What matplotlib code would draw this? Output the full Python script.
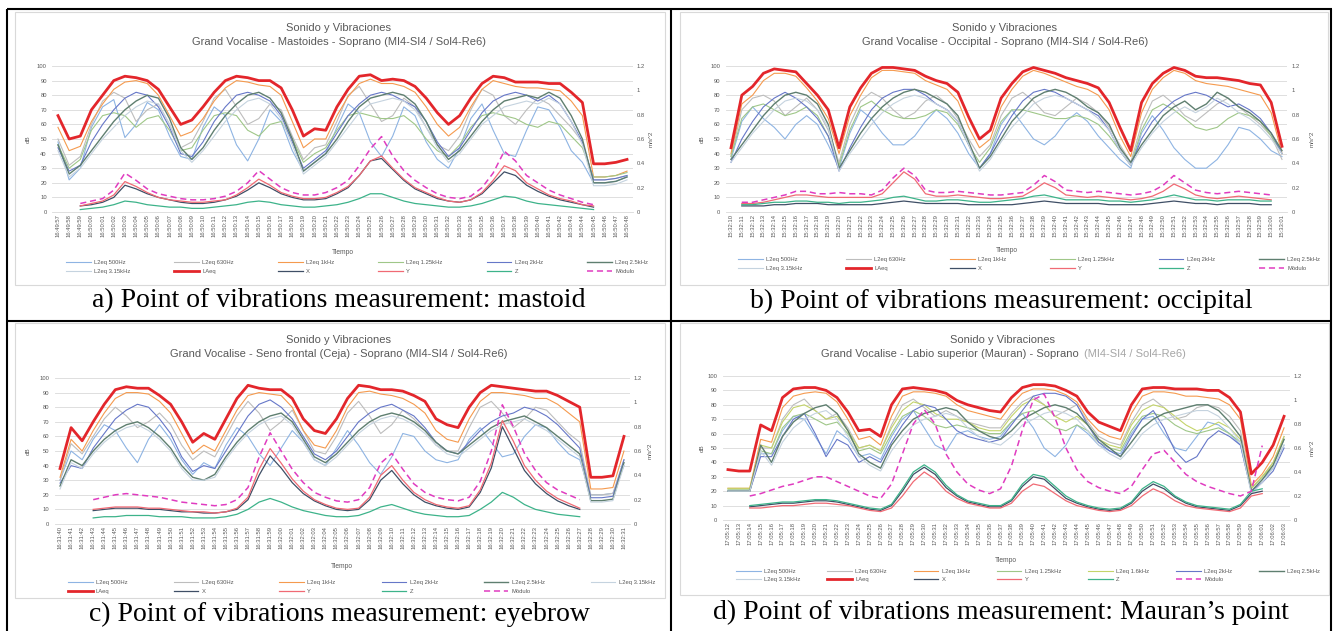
import numpy as np
import matplotlib
matplotlib.use("Agg")
import matplotlib.pyplot as plt
from matplotlib.lines import Line2D
from matplotlib.patches import Rectangle

nan = float('nan')
W, H = 1336, 631

# ---------------- tick labels (time stamps) ----------------
TIMES_A = """16:49:57 16:49:58 16:49:59 16:50:00 16:50:01 16:50:02 16:50:03 16:50:04 16:50:05 16:50:06
16:50:07 16:50:08 16:50:09 16:50:10 16:50:11 16:50:12 16:50:13 16:50:14 16:50:15 16:50:16
16:50:17 16:50:18 16:50:19 16:50:20 16:50:21 16:50:22 16:50:23 16:50:24 16:50:25 16:50:26
16:50:27 16:50:28 16:50:29 16:50:30 16:50:31 16:50:32 16:50:33 16:50:34 16:50:35 16:50:36
16:50:37 16:50:38 16:50:39 16:50:40 16:50:41 16:50:42 16:50:43 16:50:44 16:50:45 16:50:46
16:50:47 16:50:48""".split()
TIMES_B = """15:32:10 15:32:11 15:32:12 15:32:13 15:32:14 15:32:15 15:32:16 15:32:17 15:32:18 15:32:19
15:32:20 15:32:21 15:32:22 15:32:23 15:32:24 15:32:25 15:32:26 15:32:27 15:32:28 15:32:29
15:32:30 15:32:31 15:32:32 15:32:33 15:32:34 15:32:35 15:32:36 15:32:37 15:32:38 15:32:39
15:32:40 15:32:41 15:32:42 15:32:43 15:32:44 15:32:45 15:32:46 15:32:47 15:32:48 15:32:49
15:32:50 15:32:51 15:32:52 15:32:53 15:32:54 15:32:55 15:32:56 15:32:57 15:32:58 15:32:59
15:33:00 15:33:01""".split()
TIMES_C = """16:31:40 16:31:41 16:31:42 16:31:43 16:31:44 16:31:45 16:31:46 16:31:47 16:31:48 16:31:49
16:31:50 16:31:51 16:31:52 16:31:53 16:31:54 16:31:55 16:31:56 16:31:57 16:31:58 16:31:59
16:32:00 16:32:01 16:32:02 16:32:03 16:32:04 16:32:05 16:32:06 16:32:07 16:32:08 16:32:09
16:32:10 16:32:11 16:32:12 16:32:13 16:32:14 16:32:15 16:32:16 16:32:17 16:32:18 16:32:19
16:32:20 16:32:21 16:32:22 16:32:23 16:32:24 16:32:25 16:32:26 16:32:27 16:32:28 16:32:29
16:32:30 16:32:31""".split()
TIMES_D = """17:05:12 17:05:13 17:05:14 17:05:15 17:05:16 17:05:17 17:05:18 17:05:19 17:05:20 17:05:21
17:05:22 17:05:23 17:05:24 17:05:25 17:05:26 17:05:27 17:05:28 17:05:29 17:05:30 17:05:31
17:05:32 17:05:33 17:05:34 17:05:35 17:05:36 17:05:37 17:05:38 17:05:39 17:05:40 17:05:41
17:05:42 17:05:43 17:05:44 17:05:45 17:05:46 17:05:47 17:05:48 17:05:49 17:05:50 17:05:51
17:05:52 17:05:53 17:05:54 17:05:55 17:05:56 17:05:57 17:05:58 17:05:59 17:06:00 17:06:01
17:06:02 17:06:03""".split()

# ---------------- panel a: mastoid ----------------
A_LAEQ = [66,50,52,70,80,90,93,92,90,84,72,60, 63,72,82,90,93,92,90,90,85,70, 52,57,56,72,84,93,94,90,91,90,86,78,68, 60,66,78,88,93,92,89,89,89,88,88,82,75, 33,33,34,36]
A_L1K = [58,42,45,62,74,84,89,90,88,80,66,52, 55,64,76,85,90,89,87,86,80,62, 44,50,50,66,79,88,91,88,88,86,82,72,60, 52,58,72,84,90,88,86,85,85,84,83,76,66, 24,24,25,28]
A_L630 = [50,32,38,60,76,82,78,62,70,74,60,44, 48,62,78,84,72,60,64,74,70,52, 36,44,46,62,80,86,74,62,66,78,72,58,46, 42,52,70,84,80,66,60,70,78,74,66,58,48, 22,22,23,25]
A_L500 = [48,22,30,58,72,77,51,60,75,70,52,38, 36,58,72,66,46,35,50,70,62,42, 28,34,40,58,74,68,48,38,52,72,66,48,36, 30,44,64,74,56,40,38,56,72,70,58,42,34, 20,20,21,24]
A_L1250 = [46,30,36,56,66,68,66,58,64,66,56,42, 44,56,66,68,66,56,52,60,62,50, 34,40,44,56,66,68,66,64,64,66,60,50,42, 38,46,58,66,68,66,64,60,58,62,60,52,44, 24,24,25,27]
A_L2K = [44,28,32,48,60,70,78,82,80,72,58,40, 38,48,62,72,80,82,80,76,66,48, 30,36,42,54,66,74,80,82,80,76,72,62,48, 38,44,56,68,76,80,82,80,76,80,74,62,48, 22,22,23,25]
A_L2500 = [46,26,32,42,52,62,70,76,80,78,64,44, 36,44,56,66,74,80,82,78,68,50, 28,34,40,50,62,72,78,80,82,80,74,62,46, 36,42,52,62,70,76,78,80,78,82,78,66,50, 20,20,21,24]
A_L3150 = [42,24,30,40,50,58,66,72,76,74,60,42, 34,42,52,62,70,76,78,74,64,46, 26,32,38,48,58,68,74,76,78,76,70,58,44, 34,40,50,60,66,72,74,76,74,78,74,62,46, 18,18,19,22]
A_MOD = [nan,nan,.07,.09,.11,.18,.32,.26,.19,.15,.13,.11, .10,.10,.11,.13,.17,.24,.34,.27,.20,.16, .14,.14,.16,.20,.26,.38,.52,.62,.46,.34,.26,.20,.15, .12,.11,.13,.20,.32,.50,.42,.30,.24,.18,.14,.11,.08, .06,nan,nan,nan]
A_Y = [nan,nan,.05,.07,.09,.14,.25,.21,.16,.12,.10,.09, .08,.08,.09,.10,.14,.20,.27,.22,.16,.13, .11,.11,.12,.16,.21,.30,.42,.46,.36,.27,.20,.16,.12, .09,.08,.10,.16,.26,.38,.34,.24,.19,.14,.11,.09,.06, .05,nan,nan,nan]
A_X = [nan,nan,.05,.06,.08,.12,.22,.19,.15,.12,.10,.08, .07,.07,.08,.10,.13,.18,.24,.20,.15,.12, .10,.10,.11,.15,.20,.30,.42,.44,.35,.26,.19,.15,.11, .09,.08,.10,.15,.24,.33,.30,.22,.17,.13,.10,.08,.06, .04,nan,nan,nan]
A_Z = [nan,nan,.02,.03,.04,.06,.09,.08,.06,.05,.04,.04, .03,.03,.04,.05,.06,.08,.09,.08,.06,.05, .04,.04,.05,.06,.08,.11,.15,.15,.12,.09,.07,.06,.05, .04,.04,.05,.07,.10,.13,.12,.09,.07,.06,.05,.04,.03, .02,nan,nan,nan]

# ---------------- panel b: occipital ----------------
B_LAEQ = [44,80,86,95,98,97,96,88,80,70, 44, 72,85,95,99,99,98,97,93,90,88,82,65, 50, 56,78,88,96,99,97,95,92,90,88,85,75,58, 42, 75,88,95,99,97,93,92,92,91,90,88,87,75, 45]
B_L1K = [40,74,80,90,95,95,93,85,76,64, 40, 66,80,92,97,97,96,95,90,87,84,76,58, 44, 50,72,84,93,97,95,92,89,86,84,80,70,52, 38, 68,84,92,97,95,90,88,87,86,84,82,80,68, 40]
B_L630 = [38,70,78,80,76,66,72,78,70,56, 34, 60,76,82,78,70,64,68,76,80,74,64,50, 38, 46,66,78,82,76,68,66,72,78,74,68,58,46, 34, 60,76,80,74,66,62,68,74,78,72,66,60,52, 36]
B_L500 = [36,62,72,64,58,50,60,66,60,46, 30, 54,70,64,54,46,46,52,62,70,64,54,40, 30, 40,60,70,60,50,46,52,62,68,62,52,44,36, 30, 54,66,56,44,36,30,30,36,46,58,56,50,42, 38]
B_L1250 = [38,64,72,74,70,66,68,72,66,52, 32, 56,72,76,70,66,64,64,66,70,68,60,46, 34, 44,62,70,70,68,66,64,64,66,64,60,52,42, 32, 56,70,74,70,64,58,56,58,64,68,66,62,52, 40]
B_L2K = [34,50,62,72,78,82,78,72,64,52, 28, 44,58,70,78,82,84,84,80,74,70,62,46, 30, 40,54,66,76,82,84,82,78,74,70,66,56,42, 32, 50,62,70,76,80,82,80,76,72,74,70,64,54, 40]
B_L2500 = [36,46,56,66,74,80,82,80,74,60, 30, 42,54,64,72,78,82,84,82,78,74,66,48, 30, 38,50,62,70,78,82,84,82,78,72,68,60,44, 34, 46,56,66,72,76,70,74,82,78,72,68,62,54, 42]
B_L3150 = [34,44,54,62,70,76,78,76,70,58, 28, 40,50,60,68,74,78,80,78,74,70,62,46, 28, 36,48,58,66,74,78,80,78,74,70,64,56,42, 32, 44,54,62,68,72,68,72,78,74,68,64,58,50, 40]
B_MOD = [nan,.08,.08,.10,.12,.14,.17,.17,.15,.15, .16, .15,.15,.14,.18,.28,.36,.30,.18,.16,.16,.17,.16, .15, .14,.14,.15,.16,.22,.30,.25,.18,.17,.16,.17,.16,.15, .14, .15,.17,.22,.30,.24,.18,.16,.15,.16,.17,.16,.15,.14, nan]
B_Y = [nan,.07,.07,.08,.10,.12,.14,.14,.13,.12, .12, .12,.12,.12,.15,.24,.33,.27,.15,.13,.13,.14,.13, .12, .11,.11,.12,.13,.18,.24,.20,.14,.13,.12,.13,.12,.11, .10, .11,.13,.17,.23,.19,.14,.12,.11,.12,.13,.12,.11,.10, nan]
B_X = [nan,.05,.05,.05,.06,.06,.07,.07,.07,.06, .06, .06,.06,.06,.07,.08,.09,.08,.07,.07,.07,.07,.06, .06, .06,.06,.06,.07,.08,.09,.08,.07,.07,.07,.07,.06,.06, .06, .06,.07,.08,.09,.08,.07,.07,.06,.07,.07,.07,.06,.06, nan]
B_Z = [nan,.06,.06,.07,.08,.08,.09,.09,.08,.08, .07, .08,.08,.09,.10,.12,.13,.11,.09,.09,.10,.10,.09, .08, .08,.09,.10,.11,.13,.14,.12,.10,.10,.10,.10,.09,.09, .08, .09,.10,.12,.14,.12,.10,.10,.09,.10,.10,.10,.09,.09, nan]

# ---------------- panel c: eyebrow ----------------
C_LAEQ = [38,66,57,70,82,92,94,93,93,88,82,70, 56,62,58,72,86,95,93,92,92,86,72,64, 62,72,86,95,94,92,92,91,88,84,72,68, 66,80,90,95,94,93,92,91,91,88,84,80, 32,32,33,60]
C_L1K = [32,58,50,64,76,86,90,90,89,84,76,62, 48,54,50,64,78,88,90,89,88,80,64,54, 52,64,80,90,91,89,88,86,82,76,64,58, 56,72,84,90,90,89,88,86,86,82,76,70, 24,24,25,50]
C_L630 = [30,55,48,60,72,80,74,66,70,76,68,54, 44,50,46,60,74,84,76,64,70,78,64,50, 48,60,76,84,74,62,68,78,72,64,54,50, 50,66,80,84,76,66,72,80,78,70,62,56, 20,20,21,44]
C_L500 = [30,50,44,58,68,64,52,42,58,68,58,44, 34,42,38,54,66,60,48,40,52,64,56,44, 40,52,64,54,42,34,46,62,60,50,44,42, 44,58,66,56,46,48,60,68,66,56,48,44, 20,20,21,40]
C_L2K = [28,40,38,52,62,72,78,82,80,72,62,46, 36,40,38,50,62,74,82,85,80,72,60,48, 44,50,60,70,76,80,82,78,74,66,56,50, 48,56,64,70,74,76,80,78,74,68,60,52, 18,18,19,44]
C_L2500 = [26,44,40,50,58,64,68,70,66,60,52,40, 32,30,34,46,56,64,70,74,76,70,58,46, 42,48,56,64,70,74,76,74,70,64,56,50, 48,54,60,66,70,72,74,70,66,60,54,48, 16,16,17,42]
C_L3150 = [24,42,38,48,56,62,66,68,64,58,50,38, 30,30,32,44,54,62,68,72,74,68,56,44, 40,46,54,62,68,72,74,72,68,62,54,48, 46,52,58,64,68,70,72,68,64,58,52,46, 15,15,16,40]
C_MOD = [nan,nan,nan,.20,.22,.24,.25,.24,.23,.22,.20,.18, .17,.16,.15,.16,.20,.30,.55,.75,.60,.45,.34,.26, .22,.19,.18,.20,.30,.50,.58,.45,.33,.26,.22,.20, .19,.22,.35,.60,.98,.80,.58,.44,.34,.28,.24,.20, nan,nan,nan,nan]
C_Y = [nan,nan,nan,.12,.13,.14,.14,.14,.13,.13,.12,.11, .10,.10,.09,.10,.13,.22,.45,.62,.50,.37,.27,.20, .16,.13,.12,.13,.22,.40,.48,.36,.26,.20,.16,.14, .13,.15,.28,.50,.85,.68,.48,.36,.27,.21,.17,.13, nan,nan,nan,nan]
C_X = [nan,nan,nan,.11,.12,.13,.13,.13,.12,.12,.11,.10, .10,.09,.09,.10,.12,.20,.40,.56,.46,.34,.25,.19, .15,.12,.11,.12,.20,.36,.44,.33,.24,.18,.15,.13, .12,.14,.26,.46,.80,.62,.44,.33,.25,.19,.15,.12, nan,nan,nan,nan]
C_Z = [nan,nan,nan,.05,.06,.06,.07,.07,.07,.06,.06,.06, .05,.05,.05,.06,.08,.12,.18,.21,.18,.14,.11,.09, .07,.06,.06,.07,.10,.14,.16,.13,.10,.08,.07,.06, .06,.07,.12,.18,.26,.22,.16,.12,.10,.08,.07,.06, nan,nan,nan,nan]

# ---------------- panel d: Mauran's point ----------------
D_LAEQ = [35,34,34,66,62,85,91,92,92,90,85,75, 62,63,58,80,91,92,91,90,88,83,80,78, 76,75,85,92,94,94,93,90,86,75,68,65, 62,80,91,92,92,91,91,91,90,90,85,75, 32,40,52,72]
D_L1K = [22,22,22,56,54,78,86,88,89,88,82,70, 56,58,52,72,86,89,89,88,86,80,76,74, 72,70,80,88,91,91,90,87,82,70,62,58, 56,74,86,89,89,88,86,86,85,84,80,70, 24,32,44,64]
D_L630 = [20,20,20,50,50,70,80,84,76,70,74,64, 50,52,48,66,80,84,78,72,76,72,68,66, 64,64,74,82,86,80,72,76,80,68,58,54, 52,68,80,84,78,70,72,78,80,78,72,62, 22,30,40,58]
D_L500 = [20,20,20,46,46,62,72,70,58,46,62,56, 44,46,42,58,70,76,64,52,48,60,62,58, 56,58,68,74,64,50,44,52,66,60,52,48, 46,60,70,72,60,50,48,58,68,66,60,52, 20,28,36,52]
D_L1250 = [21,21,21,48,46,64,72,74,70,66,68,60, 48,50,46,60,72,76,72,66,64,66,64,62, 60,60,68,74,76,70,64,62,66,62,54,50, 48,62,72,74,72,66,62,60,62,64,60,54, 22,30,38,56]
D_L1600 = [22,22,22,52,50,68,78,80,76,70,72,62, 50,52,48,64,76,82,80,74,70,70,68,64, 62,62,72,80,84,80,72,68,72,66,56,52, 50,66,76,80,78,72,66,62,64,68,64,56, 22,30,40,58]
D_L2K = [20,20,20,44,44,58,70,74,60,44,56,52, 40,44,40,54,66,76,80,78,70,62,58,56, 54,56,66,76,86,88,88,86,80,66,54,48, 44,58,70,76,64,48,40,44,56,62,58,52, 20,26,34,50]
D_L2500 = [20,20,20,52,40,58,68,74,78,80,74,62, 46,40,36,52,62,70,74,76,78,76,68,62, 58,56,62,70,74,78,80,78,74,66,56,50, 44,54,64,70,74,76,78,80,80,76,68,58, 20,28,38,56]
D_L3150 = [20,20,20,48,38,54,64,70,74,76,70,58, 44,38,34,48,58,66,70,72,74,72,64,58, 54,52,58,66,70,74,76,74,70,62,52,46, 42,50,60,66,70,72,74,76,76,72,64,54, 18,26,36,52]
D_MOD = [nan,nan,.20,.22,.25,.28,.30,.33,.36,.36,.32,.28, .24,.20,.18,.30,.55,.80,.92,.80,.55,.40,.30,.25, .22,.26,.45,.75,1.0,1.05,.85,.60,.42,.32,.27,.24, .22,.28,.42,.55,.58,.48,.38,.32,.28,.25,.22,.20, .24,.62,nan,nan]
D_Y = [nan,nan,.10,.10,.11,.12,.12,.13,.14,.14,.13,.12, .10,.08,.07,.10,.20,.32,.40,.34,.24,.18,.14,.12, .10,.10,.14,.24,.30,.28,.22,.16,.12,.10,.08,.07, .08,.12,.20,.26,.22,.16,.12,.10,.09,.08,.07,.10, .20,.22,nan,nan]
D_X = [nan,nan,.11,.12,.13,.14,.14,.15,.16,.16,.15,.13, .11,.09,.08,.12,.24,.38,.44,.38,.27,.20,.15,.13, .11,.11,.16,.28,.36,.34,.26,.18,.14,.11,.09,.08, .09,.14,.24,.30,.26,.19,.14,.11,.10,.09,.08,.12, .22,.24,nan,nan]
D_Z = [nan,nan,.12,.13,.14,.15,.15,.16,.17,.17,.16,.14, .12,.10,.09,.13,.26,.40,.46,.40,.29,.21,.16,.14, .12,.12,.17,.30,.38,.36,.28,.20,.15,.12,.10,.09, .10,.15,.26,.32,.28,.20,.15,.12,.11,.10,.09,.13, .24,.26,nan,nan]

# ---------------- styles ----------------
STYLE = {
    'L2eq 500Hz':   ('#8EB4E3', 0.8, '-'),
    'L2eq 630Hz':   ('#BDBDBD', 0.8, '-'),
    'L2eq 1kHz':    ('#F59A4E', 0.8, '-'),
    'L2eq 1.25kHz': ('#9FC788', 0.8, '-'),
    'L2eq 1.6kHz':  ('#C4D46A', 0.8, '-'),
    'L2eq 2kHz':    ('#6677C8', 0.8, '-'),
    'L2eq 2.5kHz':  ('#5F7F70', 1.0, '-'),
    'L2eq 3.15kHz': ('#C5D3DF', 0.8, '-'),
    'LAeq':         ('#E3262B', 2.0, '-'),
    'X':            ('#3F4F66', 0.9, '-'),
    'Y':            ('#F06A74', 0.9, '-'),
    'Z':            ('#3DB38A', 0.9, '-'),
    'Módulo':       ('#E03CC0', 1.1, (0, (4, 2.5))),
}
VIB = {'X', 'Y', 'Z', 'Módulo'}
GRAY = '#595959'
CHART_FONT = ['Liberation Sans', 'DejaVu Sans']

PANELS = [
    dict(series=[('L2eq 500Hz', A_L500), ('L2eq 630Hz', A_L630), ('L2eq 1kHz', A_L1K), ('L2eq 1.25kHz', A_L1250),
                 ('L2eq 2kHz', A_L2K), ('L2eq 2.5kHz', A_L2500), ('L2eq 3.15kHz', A_L3150), ('LAeq', A_LAEQ),
                 ('X', A_X), ('Y', A_Y), ('Z', A_Z), ('Módulo', A_MOD)],
         times=TIMES_A, ncol=6,
         sub=("Grand Vocalise - Mastoides - Soprano (MI4-SI4 / Sol4-Re6)", ""),
         caption="a) Point of vibrations measurement: mastoid",
         box=(15, 12, 665, 285), plot=(52.4, 66, 632.6, 212), tcx=339, ty=28, sy=42,
         xl_y=253, leg=(66, 648, 257, 277), db_x=28, ms_x=651, cap=(339, 301)),
    dict(series=[('L2eq 500Hz', B_L500), ('L2eq 630Hz', B_L630), ('L2eq 1kHz', B_L1K), ('L2eq 1.25kHz', B_L1250),
                 ('L2eq 2kHz', B_L2K), ('L2eq 2.5kHz', B_L2500), ('L2eq 3.15kHz', B_L3150), ('LAeq', B_LAEQ),
                 ('X', B_X), ('Y', B_Y), ('Z', B_Z), ('Módulo', B_MOD)],
         times=TIMES_B, ncol=6,
         sub=("Grand Vocalise - Occipital - Soprano (MI4-SI4 / Sol4-Re6)", ""),
         caption="b) Point of vibrations measurement: occipital",
         box=(680, 12, 1328, 285), plot=(725.6, 66, 1287.4, 212), tcx=1005, ty=28, sy=42,
         xl_y=250, leg=(738, 1320, 254, 274), db_x=702, ms_x=1312, cap=(1001, 301)),
    dict(series=[('L2eq 500Hz', C_L500), ('L2eq 630Hz', C_L630), ('L2eq 1kHz', C_L1K),
                 ('L2eq 2kHz', C_L2K), ('L2eq 2.5kHz', C_L2500), ('L2eq 3.15kHz', C_L3150), ('LAeq', C_LAEQ),
                 ('X', C_X), ('Y', C_Y), ('Z', C_Z), ('Módulo', C_MOD)],
         times=TIMES_C, ncol=6,
         sub=("Grand Vocalise - Seno frontal (Ceja) - Soprano (MI4-SI4 / Sol4-Re6)", ""),
         caption="c) Point of vibrations measurement: eyebrow",
         box=(15, 323, 665, 598), plot=(54.5, 378, 629.5, 524), tcx=339, ty=340, sy=354,
         xl_y=567, leg=(68, 655, 577, 597), db_x=28, ms_x=650, cap=(339, 614)),
    dict(series=[('L2eq 500Hz', D_L500), ('L2eq 630Hz', D_L630), ('L2eq 1kHz', D_L1K), ('L2eq 1.25kHz', D_L1250),
                 ('L2eq 1.6kHz', D_L1600), ('L2eq 2kHz', D_L2K), ('L2eq 2.5kHz', D_L2500), ('L2eq 3.15kHz', D_L3150),
                 ('LAeq', D_LAEQ), ('X', D_X), ('Y', D_Y), ('Z', D_Z), ('Módulo', D_MOD)],
         times=TIMES_D, ncol=7,
         sub=("Grand Vocalise - Labio superior (Mauran) - Soprano ", "(MI4-SI4 / Sol4-Re6)"),
         caption="d) Point of vibrations measurement: Mauran\u2019s point",
         box=(680, 323, 1329, 595), plot=(722.5, 376, 1289.5, 520), tcx=1002, ty=340, sy=354,
         xl_y=561, leg=(736, 1320, 566, 585), db_x=702, ms_x=1312, cap=(1001, 612)),
]

fig = plt.figure(figsize=(W / 100, H / 100), dpi=100)
fig.patch.set_facecolor('white')
renderer = fig.canvas.get_renderer()


def fx(x):
    return x / W


def fy(y):
    return 1 - y / H


def draw_panel(p):
    bx0, by0, bx1, by1 = p['box']
    fig.add_artist(Rectangle((fx(bx0), fy(by1)), (bx1 - bx0) / W, (by1 - by0) / H,
                             transform=fig.transFigure, facecolor='white',
                             edgecolor='#D9D9D9', lw=0.8, zorder=0))
    px0, py0, px1, py1 = p['plot']
    ax = fig.add_axes([fx(px0), fy(py1), (px1 - px0) / W, (py1 - py0) / H])
    ax.patch.set_alpha(0)
    times = p['times']
    n = len(times)
    ax.set_xlim(-0.5, n - 0.5)
    ax.set_ylim(0, 100)
    ax.set_yticks(range(0, 101, 10))
    ax.grid(axis='y', color='#D9D9D9', lw=0.6)
    ax.set_axisbelow(True)
    for side, s in ax.spines.items():
        s.set_visible(side == 'bottom')
    ax.spines['bottom'].set_color('#D9D9D9')
    ax.spines['bottom'].set_linewidth(0.6)
    ax.set_xticks(np.arange(n))
    ax.set_xticklabels(times, rotation=90, fontsize=4.2, color=GRAY, family=CHART_FONT)
    ax.tick_params(axis='x', length=0, pad=1.5)
    ax.tick_params(axis='y', length=0, pad=4, labelsize=4.2, labelcolor=GRAY)
    for t in ax.get_yticklabels():
        t.set_family(CHART_FONT)

    ax2 = ax.twinx()
    ax2.set_ylim(0, 1.2)
    ax2.set_yticks([0, 0.2, 0.4, 0.6, 0.8, 1.0, 1.2])
    ax2.set_yticklabels(['0', '0.2', '0.4', '0.6', '0.8', '1', '1.2'], family=CHART_FONT)
    ax2.tick_params(axis='y', length=0, pad=3, labelsize=4.2, labelcolor=GRAY)
    for s in ax2.spines.values():
        s.set_visible(False)

    handles, labels = [], []
    for name, vals in p['series']:
        col, lw, ls = STYLE[name]
        target = ax2 if name in VIB else ax
        h, = target.plot(np.arange(len(vals)), vals, color=col, lw=lw, ls=ls,
                         solid_joinstyle='round', dash_capstyle='butt')
        handles.append(h)
        labels.append(name)

    # titles
    fig.text(fx(p['tcx']), fy(p['ty']), 'Sonido y Vibraciones', ha='center', va='center',
             fontsize=8, color=GRAY, family=CHART_FONT)
    s1, s2 = p['sub']
    t1 = fig.text(0, fy(p['sy']), s1, ha='left', va='center', fontsize=8, color=GRAY, family=CHART_FONT)
    w1 = t1.get_window_extent(renderer).width
    w2 = 0
    t2 = None
    if s2:
        t2 = fig.text(0, fy(p['sy']), s2, ha='left', va='center', fontsize=8, color='#A6A6A6',
                      family=CHART_FONT)
        w2 = t2.get_window_extent(renderer).width
    start = p['tcx'] - (w1 + w2) / 2
    t1.set_x(fx(start))
    if t2 is not None:
        t2.set_x(fx(start + w1 + 2))

    mid = (py0 + py1) / 2
    fig.text(fx(p['db_x']), fy(mid), 'dB', rotation=90, ha='center', va='center',
             fontsize=4.5, color=GRAY, family=CHART_FONT)
    fig.text(fx(p['ms_x']), fy(mid), 'm/s^2', rotation=90, ha='center', va='center',
             fontsize=4.5, color=GRAY, family=CHART_FONT)
    fig.text(fx((px0 + px1) / 2), fy(p['xl_y']), 'Tiempo', ha='center', va='center',
             fontsize=4.8, color=GRAY, family=CHART_FONT)

    # legend, filled row by row
    ncol = p['ncol']
    nitems = len(handles)
    nrows = int(np.ceil(nitems / ncol))
    order = [r * ncol + c for c in range(ncol) for r in range(nrows) if r * ncol + c < nitems]
    lx0, lx1, ly0, ly1 = p['leg']
    fig.legend([handles[i] for i in order], [labels[i] for i in order],
               loc='center', bbox_to_anchor=(fx(lx0), fy(ly1), (lx1 - lx0) / W, (ly1 - ly0) / H),
               bbox_transform=fig.transFigure, mode='expand', ncol=ncol, frameon=False,
               prop={'family': CHART_FONT, 'size': 4.2}, labelcolor=GRAY,
               handlelength=4.2, handletextpad=0.6, borderaxespad=0, borderpad=0,
               labelspacing=0.55, columnspacing=1.0)

    fig.text(fx(p['cap'][0]), fy(p['cap'][1]), p['caption'], ha='center', va='center',
             fontsize=20, color='black', family=['Liberation Serif', 'DejaVu Serif'])


for p in PANELS:
    draw_panel(p)

# table borders
def hline(y, x0, x1):
    fig.add_artist(Line2D([fx(x0), fx(x1)], [fy(y), fy(y)], transform=fig.transFigure,
                          color='black', lw=1.5, solid_capstyle='butt'))


def vline(x, y0, y1):
    fig.add_artist(Line2D([fx(x), fx(x)], [fy(y0), fy(y1)], transform=fig.transFigure,
                          color='black', lw=1.5, solid_capstyle='butt'))


hline(9, 6.5, 1331.5)
hline(320.5, 6.5, 1331.5)
vline(7, 9, 631)
vline(671, 9, 631)
vline(1331, 9, 631)

fig.savefig('out.png', dpi=100, facecolor='white')
